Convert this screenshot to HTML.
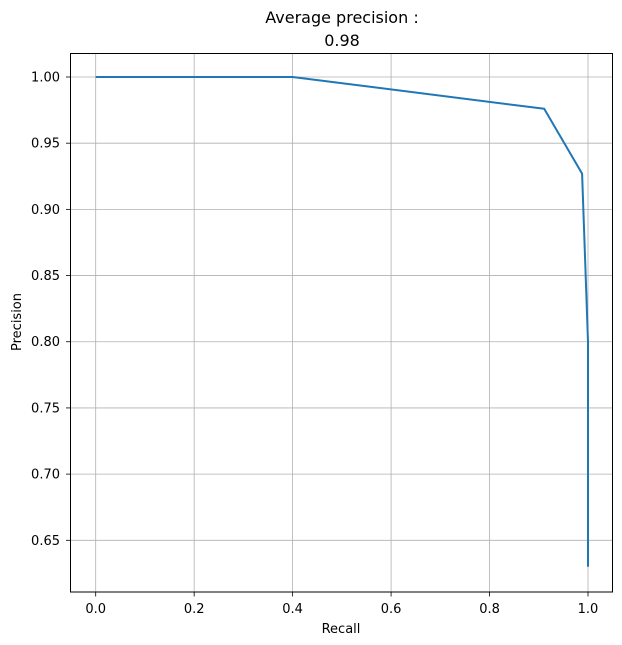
<!DOCTYPE html>
<html><head><meta charset="utf-8"><style>
body{margin:0;background:#fff;}
svg{display:block;font-family:"DejaVu Sans","Liberation Sans",sans-serif;}
</style></head><body>
<svg id="chart" width="622" height="645">
<rect width="622" height="645" fill="#fff"/>
<text x="342" y="23" text-anchor="middle" font-size="16">Average precision :</text>
<text x="342" y="46" text-anchor="middle" font-size="16">0.98</text>
<g id="grid"></g>
<g id="ticks"></g>
<path id="series" fill="none" stroke="#1f77b4" stroke-width="2" stroke-linejoin="round"/>
<rect x="70.5" y="53.5" width="542" height="538.5" fill="none" stroke="#000" stroke-width="1"/>
<text x="341" y="633" text-anchor="middle" font-size="13">Recall</text>
<text transform="translate(21,322) rotate(-90)" text-anchor="middle" font-size="13">Precision</text>
</svg>
<script>
const recall = [0, 0.4, 0.911, 0.988, 1.0, 1.0];
const precision = [1.0, 1.0, 0.976, 0.927, 0.80, 0.63];
const xTicks = [0, 0.2, 0.4, 0.6, 0.8, 1.0];
const xTickLabels = ["0.0","0.2","0.4","0.6","0.8","1.0"];
const yTicks = [0.65,0.70,0.75,0.80,0.85,0.90,0.95,1.00];
const yTickLabels = ["0.65","0.70","0.75","0.80","0.85","0.90","0.95","1.00"];
const ns="http://www.w3.org/2000/svg";
function sx(v){return 95.7+v*492.3;}
function sy(v){return 77+(1-v)*(540.3-77)/0.35;}
const grid=document.getElementById('grid'), ticks=document.getElementById('ticks');
function mk(tag,attrs,parent){const e=document.createElementNS(ns,tag);for(const k in attrs)e.setAttribute(k,attrs[k]);parent.appendChild(e);return e;}
xTicks.forEach((v,i)=>{
  const x=sx(v);
  const g=mk('line',{x1:x,x2:x,y1:53.5,y2:592,stroke:'#b0b0b0','stroke-width':0.8},grid);
  
  
  const t=mk('line',{x1:x,x2:x,y1:592,y2:596.5,stroke:'#000','stroke-width':0.8},ticks);
  
  
  const l=mk('text',{x:x,y:613,'text-anchor':'middle','font-size':13},ticks);
  l.textContent=xTickLabels[i];
  
  
});
yTicks.forEach((v,i)=>{
  const y=sy(v);
  const g=mk('line',{x1:70.5,x2:612.5,y1:y,y2:y,stroke:'#b0b0b0','stroke-width':0.8},grid);
  
  
  const t=mk('line',{x1:66,x2:70.5,y1:y,y2:y,stroke:'#000','stroke-width':0.8},ticks);
  
  
  const l=mk('text',{x:60,y:y+4.5,'text-anchor':'end','font-size':13},ticks);
  l.textContent=yTickLabels[i];
  
  
});
document.getElementById('series').setAttribute('d',recall.map((r,i)=>(i?'L':'M')+sx(r)+','+sy(precision[i])).join(' '));
</script>
</body></html>
